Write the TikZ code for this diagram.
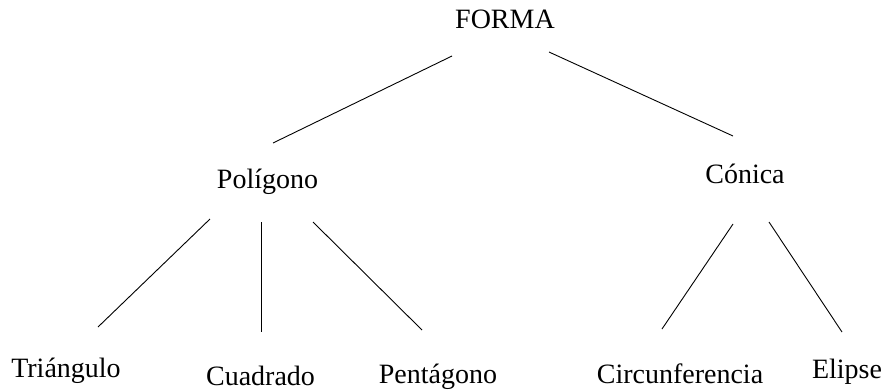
\documentclass[tikz,border=0pt]{standalone}
\usepackage{fontspec}
\setmainfont{Liberation Serif}
\begin{document}
\begin{tikzpicture}[x=1pt,y=-1pt,
  label/.style={anchor=base,inner sep=0pt,font=\fontsize{28}{32}\selectfont},
  branch/.style={line width=0.9pt,black}]
\useasboundingbox (0,0) rectangle (883,389);
% tree labels
\node[label] (forma) at (505,28) {FORMA};
\node[label] (poligono) at (267.5,188) {Polígono};
\node[label] (conica) at (745,183) {Cónica};
\node[label] (triangulo) at (66,377) {Triángulo};
\node[label,text depth=0pt] (cuadrado) at (260.5,385) {Cuadrado};
\node[label] (pentagono) at (438,383) {Pentágono};
\node[label] (circunferencia) at (680,383) {Circunferencia};
\node[label] (elipse) at (847,378) {Elipse};
% branch end points
\coordinate (forma-l) at (452,56);
\coordinate (forma-r) at (549,52);
\coordinate (poligono-t) at (273,143);
\coordinate (conica-t) at (733,136);
\coordinate (poligono-l) at (210,219);
\coordinate (poligono-m) at (261,222);
\coordinate (poligono-r) at (313,222);
\coordinate (triangulo-t) at (98,327);
\coordinate (cuadrado-t) at (261,332);
\coordinate (pentagono-t) at (422,330);
\coordinate (conica-l) at (733,224);
\coordinate (conica-r) at (769,222);
\coordinate (circunferencia-t) at (662,329);
\coordinate (elipse-t) at (842,332);
% branches
\draw[branch] (forma-l) -- (poligono-t);
\draw[branch] (forma-r) -- (conica-t);
\draw[branch] (poligono-l) -- (triangulo-t);
\draw[branch] (poligono-m) -- (cuadrado-t);
\draw[branch] (poligono-r) -- (pentagono-t);
\draw[branch] (conica-l) -- (circunferencia-t);
\draw[branch] (conica-r) -- (elipse-t);
\end{tikzpicture}
\end{document}
